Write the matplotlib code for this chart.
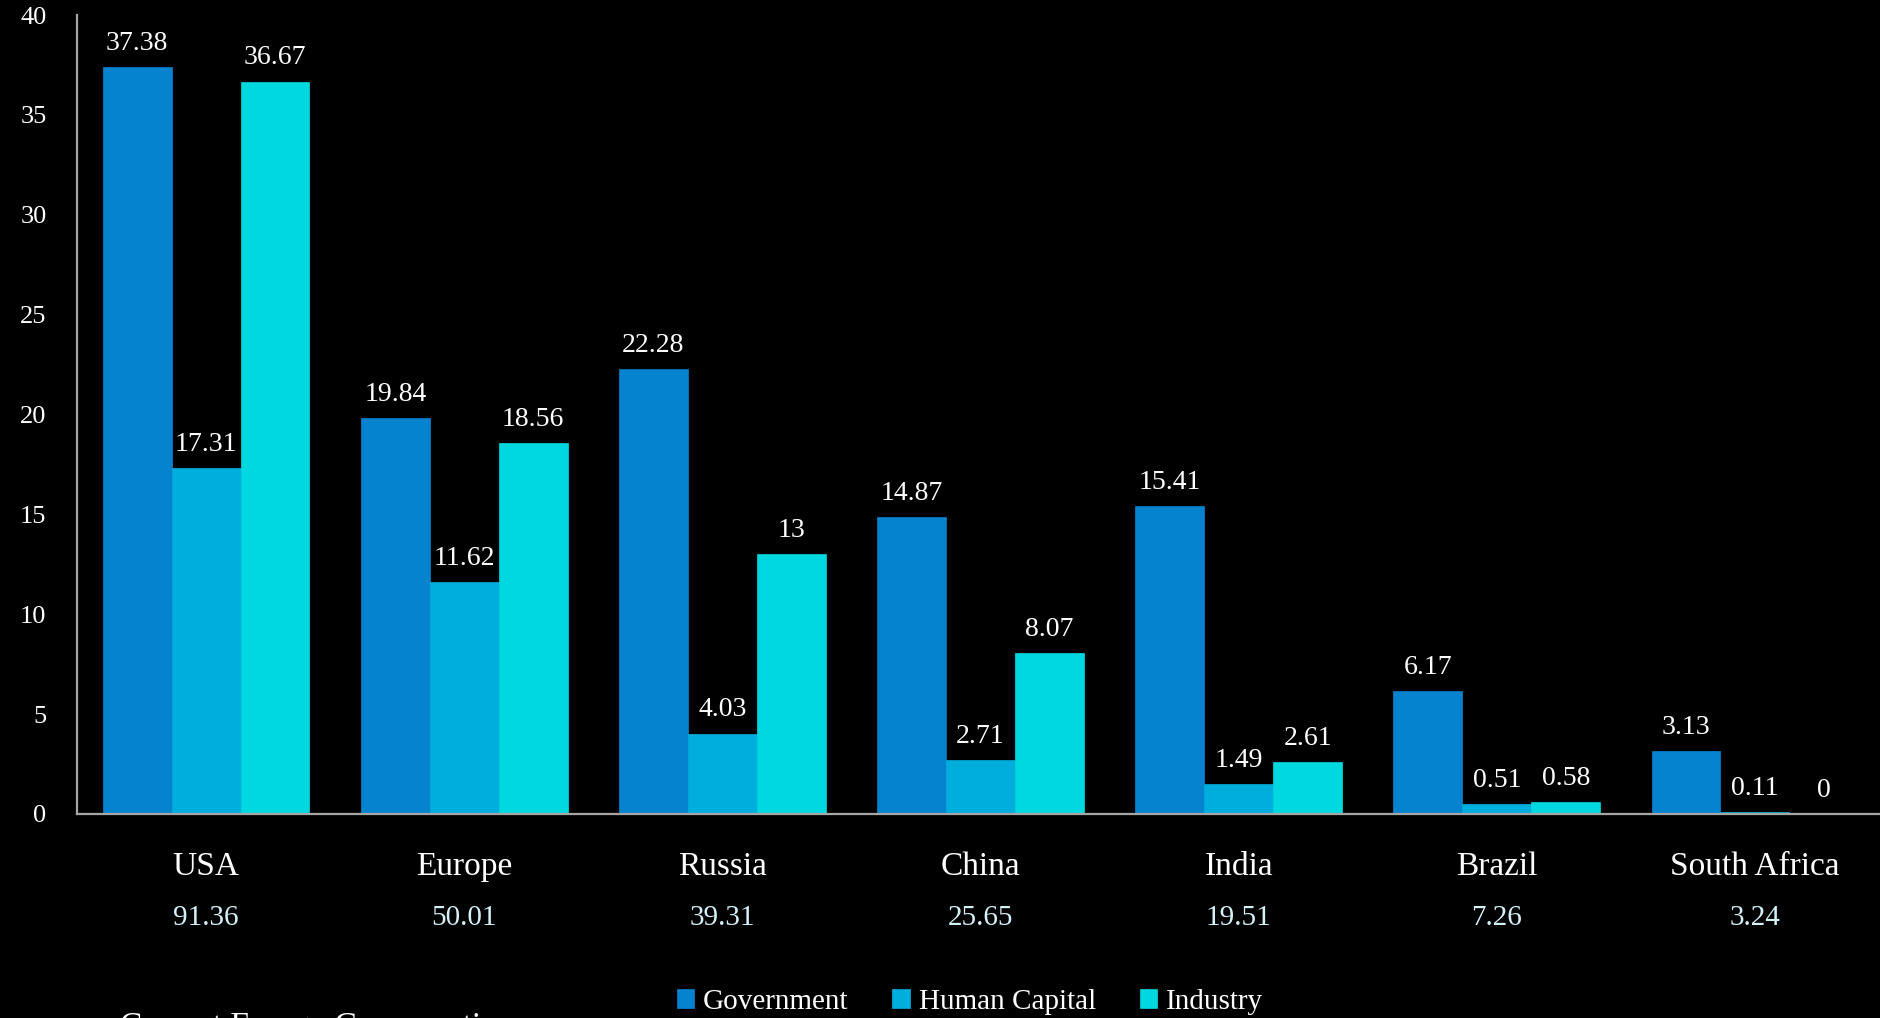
import matplotlib
matplotlib.use("Agg")
import matplotlib.pyplot as plt
import matplotlib.transforms as mtransforms
import numpy as np

regions = ['USA', 'Europe', 'Russia', 'China', 'India', 'Brazil', 'South Africa']
totals = ['91.36', '50.01', '39.31', '25.65', '19.51', '7.26', '3.24']
government = [37.38, 19.84, 22.28, 14.87, 15.41, 6.17, 3.13]
human_capital = [17.31, 11.62, 4.03, 2.71, 1.49, 0.51, 0.11]
industry = [36.67, 18.56, 13, 8.07, 2.61, 0.58, 0]
series_names = ['Government', 'Human Capital', 'Industry']
colors = ['#0683CF', '#00AEDD', '#00D8E0']
y_ticks = [0, 5, 10, 15, 20, 25, 30, 35, 40]

plt.rcParams['font.family'] = ['Liberation Serif', 'DejaVu Serif']

W, H = 1880, 1018
fig = plt.figure(figsize=(W / 100, H / 100), dpi=100)
fig.patch.set_facecolor('black')

# axes runs a little past the right edge, like the original slide
ax_left, ax_right, ax_bottom, ax_top = 77, 1884, 814, 15
ax = fig.add_axes([ax_left / W, 1 - ax_bottom / H,
                   (ax_right - ax_left) / W, (ax_bottom - ax_top) / H])
ax.set_facecolor('black')

x = np.arange(len(regions))
width = 0.267
all_series = [government, human_capital, industry]
for i, (vals, name, c) in enumerate(zip(all_series, series_names, colors)):
    rects = ax.bar(x + (i - 1) * width, vals, width, color=c, label=name,
                   edgecolor=c, linewidth=0.5)
    for rect, v in zip(rects, vals):
        ax.annotate(f'{v:g}', xy=(rect.get_x() + rect.get_width() / 2, rect.get_height()),
                    xytext=(0, 17), textcoords='offset points', ha='center', va='center',
                    color='white', fontsize=20)

ax.set_xlim(-0.5, len(regions) - 0.5)
ax.set_ylim(0, 40)
ax.set_yticks(y_ticks)
ax.tick_params(axis='y', length=0, pad=22, labelcolor='white', labelsize=19)
ax.set_xticks([])

for side in ['top', 'right']:
    ax.spines[side].set_visible(False)
for side in ['left', 'bottom']:
    ax.spines[side].set_color('#A6A6A6')
    ax.spines[side].set_linewidth(1.6)

# category names and totals below the axis
trans = mtransforms.blended_transform_factory(ax.transData, fig.transFigure)
for xi, name, tot in zip(x, regions, totals):
    ax.text(xi, 1 - 867 / H, name, transform=trans, ha='center', va='center',
            color='white', fontsize=24)
    ax.text(xi, 1 - 918 / H, tot, transform=trans, ha='center', va='center',
            color='#D4F1F8', fontsize=21)

handles, labels = ax.get_legend_handles_labels()
leg = fig.legend(handles, labels, loc='center', ncol=3,
                 bbox_to_anchor=(970 / W, 1 - 1002 / H), frameon=False,
                 fontsize=21, labelcolor='white', handlelength=0.6, handleheight=0.6,
                 handletextpad=0.3, columnspacing=1.5)

# caption cut off at the bottom of the slide
fig.text(120 / W, 1 - 1012 / H, 'Current Energy Consumption', ha='left', va='top',
         color='white', fontsize=24)

fig.savefig('out.png', dpi=100, facecolor='black')
